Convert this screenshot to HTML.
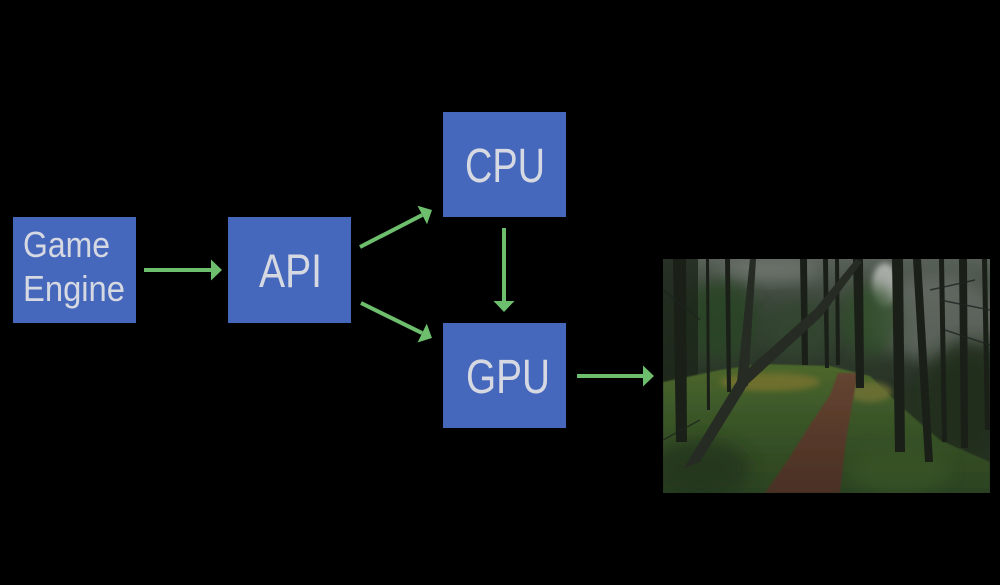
<!DOCTYPE html>
<html>
<head>
<meta charset="utf-8">
<style>
  html,body{margin:0;padding:0;background:#000;}
  body{width:1000px;height:585px;overflow:hidden;}
  svg{display:block;}
  .t{font-family:"Liberation Sans",sans-serif;fill:#d6d9e2;}
</style>
</head>
<body>
<svg width="1000" height="585" viewBox="0 0 1000 585" xmlns="http://www.w3.org/2000/svg">
  <defs>
    <marker id="ah" viewBox="0 0 11 21" refX="0" refY="10.5" markerWidth="11" markerHeight="21" markerUnits="userSpaceOnUse" orient="auto">
      <path d="M0,0 L11,10.5 L0,21 z" fill="#6dbf6d"/>
    </marker>
    <clipPath id="imgclip"><rect x="663" y="259" width="327" height="234"/></clipPath>
    <linearGradient id="upper" x1="0" y1="0" x2="0" y2="1">
      <stop offset="0" stop-color="#586058"/>
      <stop offset="0.35" stop-color="#3c473b"/>
      <stop offset="1" stop-color="#263224"/>
    </linearGradient>
    <linearGradient id="ground" x1="0" y1="0" x2="0" y2="1">
      <stop offset="0" stop-color="#4d672c"/>
      <stop offset="0.4" stop-color="#3b5628"/>
      <stop offset="1" stop-color="#2b4220"/>
    </linearGradient>
    <linearGradient id="pathg" x1="0" y1="0" x2="0" y2="1">
      <stop offset="0" stop-color="#634430"/>
      <stop offset="1" stop-color="#4a2f24"/>
    </linearGradient>
    <filter id="blur3" x="-20%" y="-20%" width="140%" height="140%"><feGaussianBlur stdDeviation="3"/></filter>
    <filter id="blur8" x="-30%" y="-30%" width="160%" height="160%"><feGaussianBlur stdDeviation="8"/></filter>
    <filter id="blur1"><feGaussianBlur stdDeviation="0.8"/></filter>
  </defs>

  <rect x="0" y="0" width="1000" height="585" fill="#000"/>

  <!-- Boxes -->
  <rect x="13" y="217" width="123" height="106" fill="#4568bd"/>
  <rect x="228" y="217" width="123" height="106" fill="#4568bd"/>
  <rect x="443" y="112" width="123" height="105" fill="#4568bd"/>
  <rect x="443" y="323" width="123" height="105" fill="#4568bd"/>

  <!-- Labels -->
  <text class="t" x="23" y="257" font-size="36" textLength="87" lengthAdjust="spacingAndGlyphs">Game</text>
  <text class="t" x="23" y="301" font-size="36" textLength="102" lengthAdjust="spacingAndGlyphs">Engine</text>
  <text class="t" x="259" y="287" font-size="47" textLength="63" lengthAdjust="spacingAndGlyphs">API</text>
  <text class="t" x="465" y="182" font-size="48" textLength="80" lengthAdjust="spacingAndGlyphs">CPU</text>
  <text class="t" x="466" y="393" font-size="48" textLength="84" lengthAdjust="spacingAndGlyphs">GPU</text>

  <!-- Arrows -->
  <g stroke="#6dbf6d" stroke-width="4" fill="none">
    <line x1="144" y1="270" x2="211" y2="270" marker-end="url(#ah)"/>
    <line x1="360" y1="247" x2="422.2" y2="215" marker-end="url(#ah)"/>
    <line x1="361" y1="303" x2="422.1" y2="333.1" marker-end="url(#ah)"/>
    <line x1="504" y1="228" x2="504" y2="301" marker-end="url(#ah)"/>
    <line x1="577" y1="376" x2="643" y2="376" marker-end="url(#ah)"/>
  </g>

  <!-- Forest photo approximation -->
  <g clip-path="url(#imgclip)">
    <rect x="663" y="259" width="327" height="234" fill="#263222"/>
    <rect x="663" y="259" width="327" height="130" fill="url(#upper)"/>
    <!-- mist / sky -->
    <ellipse cx="935" cy="318" rx="65" ry="42" fill="#6f756f" opacity="0.65" filter="url(#blur8)"/>
    <ellipse cx="885" cy="285" rx="13" ry="22" fill="#a9ada8" filter="url(#blur3)"/>
    <ellipse cx="770" cy="270" rx="50" ry="12" fill="#7d837d" opacity="0.6" filter="url(#blur8)"/>
    <!-- foliage -->
    <ellipse cx="720" cy="320" rx="40" ry="40" fill="#2a4426" opacity="0.9" filter="url(#blur8)"/>
    <ellipse cx="870" cy="320" rx="30" ry="35" fill="#30502b" opacity="0.8" filter="url(#blur8)"/>
    <ellipse cx="800" cy="330" rx="35" ry="28" fill="#33462f" opacity="0.75" filter="url(#blur8)"/>
    <ellipse cx="965" cy="400" rx="40" ry="60" fill="#212f1d" opacity="0.9" filter="url(#blur8)"/>
    <rect x="663" y="259" width="35" height="234" fill="#1c2619" opacity="0.8"/>
    <!-- ground -->
    <polygon points="663,382 720,370 760,364 830,366 870,376 905,410 940,440 990,462 990,493 663,493" fill="url(#ground)" filter="url(#blur1)"/>
    <ellipse cx="770" cy="382" rx="50" ry="9" fill="#76722f" opacity="0.85" filter="url(#blur3)"/>
    <ellipse cx="870" cy="392" rx="22" ry="10" fill="#727234" opacity="0.8" filter="url(#blur3)"/>
    <ellipse cx="700" cy="470" rx="50" ry="30" fill="#22361c" opacity="0.8" filter="url(#blur8)"/>
    <ellipse cx="900" cy="470" rx="50" ry="25" fill="#3a5628" opacity="0.6" filter="url(#blur8)"/>
    <!-- path -->
    <polygon points="838,373 858,373 852,405 846,440 840,493 765,493 788,460 810,425 830,395" fill="url(#pathg)" filter="url(#blur1)"/>
    <!-- trunks -->
    <g fill="#1a1f18">
      <polygon points="892,259 903,259 905,452 895,452"/>
      <polygon points="913,259 921,259 933,462 925,462"/>
      <polygon points="939,259 944,259 947,442 942,442"/>
      <polygon points="959,259 967,259 968,448 961,448"/>
      <polygon points="853,259 863,259 864,388 856,388"/>
      <polygon points="835,259 839,259 840,365 836,365"/>
      <polygon points="800,259 807,259 808,365 802,365"/>
      <polygon points="823,259 828,259 829,368 825,368"/>
      <polygon points="673,259 686,259 687,442 676,442"/>
      <polygon points="725,259 730,259 731,392 727,392"/>
      <polygon points="706,259 709,259 710,410 707,410"/>
      <polygon points="982,259 987,259 990,430 985,430"/>
    </g>
    <g fill="#262b24">
      <!-- leaning trunk -->
      <polygon points="684,468 700,462 748,384 822,316 862,262 856,259 816,308 740,376"/>
      <!-- V trunk -->
      <polygon points="737,382 748,386 756,259 750,259"/>
    </g>
    <!-- thin branches -->
    <g stroke="#1e2420" stroke-width="1.5" fill="none" opacity="0.8">
      <line x1="663" y1="290" x2="700" y2="320"/>
      <line x1="940" y1="300" x2="990" y2="310"/>
      <line x1="945" y1="330" x2="990" y2="345"/>
      <line x1="700" y1="420" x2="663" y2="440"/>
      <line x1="930" y1="290" x2="975" y2="280"/>
    </g>
  </g>
</svg>
</body>
</html>
